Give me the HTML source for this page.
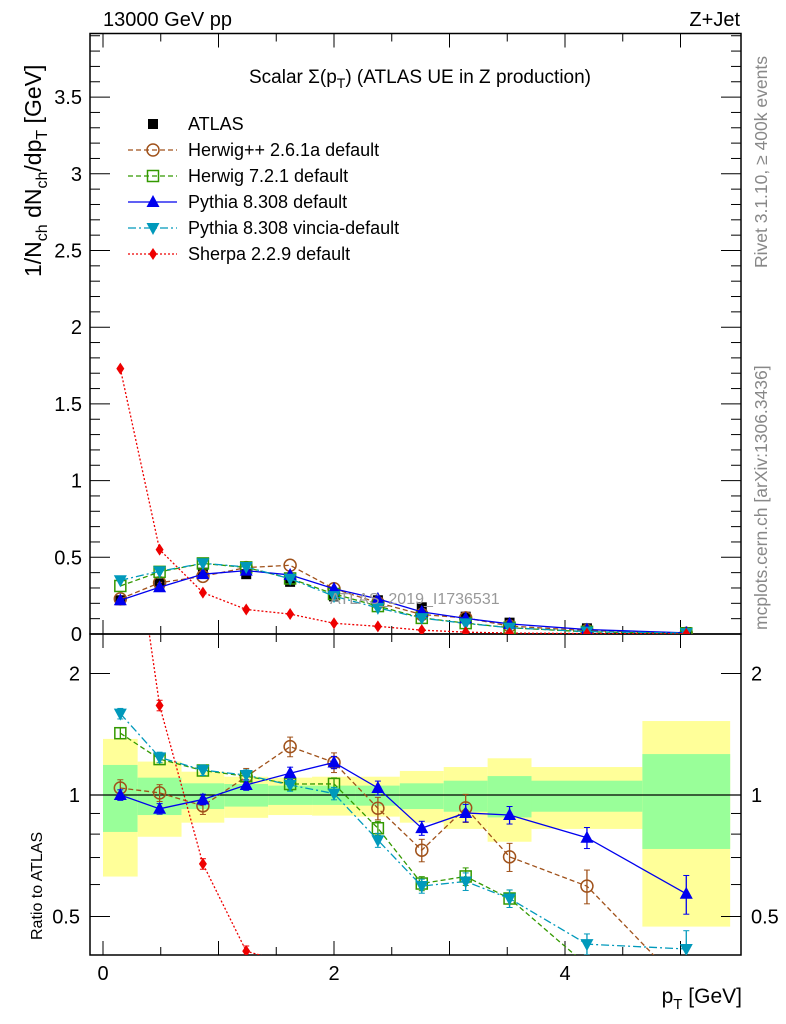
<!DOCTYPE html>
<html><head><meta charset="utf-8">
<style>
html,body{margin:0;padding:0;background:#fff;overflow:hidden;width:786px;height:1024px;}
svg{display:block;font-family:"Liberation Sans",sans-serif;}
</style></head>
<body>
<svg id="chart" width="786" height="1024" viewBox="0 0 786 1024" xmlns="http://www.w3.org/2000/svg">
  <g id="bands"></g>
  <g id="grid"></g>
  <g id="series"></g>
  <text x="103" y="26" font-size="20">13000 GeV pp</text>
  <text x="740" y="26" font-size="20" text-anchor="end">Z+Jet</text>
  <text x="420" y="83" font-size="19" text-anchor="middle">Scalar Σ(p<tspan font-size="14" dy="5">T</tspan><tspan dy="-5">) (ATLAS UE in Z production)</tspan></text>
  <text transform="translate(41,277) rotate(-90)" font-size="23">1/N<tspan font-size="16" dy="6">ch</tspan><tspan dy="-6"> dN</tspan><tspan font-size="16" dy="6">ch</tspan><tspan dy="-6">/dp</tspan><tspan font-size="16" dy="6">T</tspan><tspan dy="-6"> [GeV]</tspan></text>
  <text transform="translate(42,940) rotate(-90)" font-size="16">Ratio to ATLAS</text>
  <text x="742" y="1003" font-size="21" text-anchor="end">p<tspan font-size="15" dy="6">T</tspan><tspan dy="-6"> [GeV]</tspan></text>
  <text transform="translate(767,268) rotate(-90)" font-size="17.5" fill="#888">Rivet 3.1.10, ≥ 400k events</text>
  <text transform="translate(767,630) rotate(-90)" font-size="17.5" fill="#888">mcplots.cern.ch [arXiv:1306.3436]</text>
  <text x="330" y="604" font-size="16" fill="#999">ATLAS_2019_I1736531</text>
  <g id="legend"></g>
</svg>
<script>
const binEdges=[0,0.3,0.68,1.05,1.43,1.81,2.19,2.57,2.95,3.33,3.71,4.67,5.43];
const atlas=[0.22,0.33,0.40,0.39,0.34,0.245,0.22,0.174,0.113,0.074,0.037,0.013];
const herwigpp=[0.229,0.334,0.376,0.433,0.448,0.295,0.204,0.127,0.105,0.052,0.022,0.0043];
const herwig7=[0.313,0.405,0.46,0.434,0.362,0.261,0.182,0.105,0.071,0.041,0.014,0.0039];
const pythia=[0.22,0.305,0.39,0.413,0.385,0.295,0.229,0.144,0.102,0.066,0.029,0.0074];
const vincia=[0.35,0.409,0.461,0.437,0.36,0.247,0.170,0.1035,0.069,0.041,0.0158,0.0054];
const sherpa=[1.73,0.55,0.27,0.16,0.13,0.07,0.05,0.025,0.012,0.006,0.003,0.001];
const relErr=[0.03,0.03,0.03,0.03,0.035,0.035,0.04,0.04,0.05,0.05,0.06,0.11];
const yellowHi=[1.377,1.21,1.142,1.11,1.104,1.11,1.11,1.147,1.173,1.233,1.173,1.525];
const yellowLo=[0.628,0.788,0.854,0.878,0.892,0.889,0.884,0.854,0.824,0.766,0.824,0.472];
const greenHi=[1.187,1.104,1.069,1.065,1.055,1.055,1.055,1.069,1.085,1.114,1.085,1.263];
const greenLo=[0.81,0.892,0.923,0.936,0.945,0.945,0.941,0.923,0.909,0.88,0.909,0.735];
const topTicks=["0","0.5","1","1.5","2","2.5","3","3.5"];
const xTicks=["0","2","4"];
const ratioTicks=["0.5","1","2"];

const NS="http://www.w3.org/2000/svg";
const L=90,R=741,T=33.5,M=634,B=955;
const X=v=>103+v*115.5;
const YT=v=>634-v*153.4;
const YR=r=>795-Math.log2(r)*121.5;
function mk(tag,attrs,parent){const e=document.createElementNS(NS,tag);for(const k in attrs)e.setAttribute(k,attrs[k]);parent.appendChild(e);return e;}
const bands=document.getElementById('bands'),grid=document.getElementById('grid'),ser=document.getElementById('series'),leg=document.getElementById('legend');
const centers=binEdges.slice(0,-1).map((e,i)=>(e+binEdges[i+1])/2);

for(let i=0;i<atlas.length;i++){
  const x0=X(binEdges[i]),x1=X(binEdges[i+1]);
  const y=mk('rect',{x:x0,y:YR(yellowHi[i]),width:x1-x0,height:YR(yellowLo[i])-YR(yellowHi[i]),fill:'#ffff99'},bands);
  
  
  const g=mk('rect',{x:x0,y:YR(greenHi[i]),width:x1-x0,height:YR(greenLo[i])-YR(greenHi[i]),fill:'#99ff99'},bands);
  
  
}
mk('line',{x1:L,x2:R,y1:YR(1),y2:YR(1),stroke:'#000','stroke-width':1.3},bands);

const f1=mk('rect',{x:L,y:T,width:R-L,height:M-T,fill:'none',stroke:'#000','stroke-width':1.5},grid);


const f2=mk('rect',{x:L,y:M,width:R-L,height:B-M,fill:'none',stroke:'#000','stroke-width':1.5},grid);


for(let k=0;k<=39;k++){const v=k/10,y=YT(v);if(y<T)break;const len=k%5==0?20:10;
  mk('line',{x1:L,x2:L+len,y1:y,y2:y,stroke:'#000'},grid);mk('line',{x1:R,x2:R-len,y1:y,y2:y,stroke:'#000'},grid);}
topTicks.forEach(t=>{const tx=mk('text',{x:L-8,y:YT(+t)+7,'font-size':20,'text-anchor':'end'},grid);tx.textContent=t;
  
  });
for(let k=0;k<=10;k++){const x=X(k/2);const len=k%2==0?14:8;
  [[T,1],[M,-1],[M,1],[B,-1]].forEach(([y,d])=>mk('line',{x1:x,x2:x,y1:y,y2:y+d*len,stroke:'#000'},grid));}
xTicks.forEach(t=>{const tx=mk('text',{x:X(+t),y:980,'font-size':20,'text-anchor':'middle'},grid);tx.textContent=t;
  
  });
[0.5,0.6,0.7,0.8,0.9,1,2].forEach(v=>{const y=YR(v);const len=(v==0.5||v==1||v==2)?20:10;
  mk('line',{x1:L,x2:L+len,y1:y,y2:y,stroke:'#000'},grid);mk('line',{x1:R,x2:R-len,y1:y,y2:y,stroke:'#000'},grid);});
ratioTicks.forEach(t=>{const y=YR(+t)+7;
  const a=mk('text',{x:L-10,y:y,'font-size':20,'text-anchor':'end'},grid);a.textContent=t;
  
  
  const b=mk('text',{x:R+10,y:y,'font-size':20},grid);b.textContent=t;
  
  });

function marker(type,x,y,col,p,s){
  s=s||1;
  if(type=='sq')return mk('rect',{x:x-5*s,y:y-5*s,width:10*s,height:10*s,fill:'#000'},p);
  if(type=='circ')return mk('circle',{cx:x,cy:y,r:6*s,fill:'none',stroke:col,'stroke-width':1.5},p);
  if(type=='osq')return mk('rect',{x:x-5.5*s,y:y-5.5*s,width:11*s,height:11*s,fill:'none',stroke:col,'stroke-width':1.5},p);
  if(type=='tri')return mk('polygon',{points:`${x},${y-7*s} ${x-6.5*s},${y+5*s} ${x+6.5*s},${y+5*s}`,fill:col},p);
  if(type=='itri')return mk('polygon',{points:`${x},${y+7*s} ${x-6.5*s},${y-5*s} ${x+6.5*s},${y-5*s}`,fill:col},p);
  if(type=='dia')return mk('polygon',{points:`${x},${y-6*s} ${x-4*s},${y} ${x},${y+6*s} ${x+4*s},${y}`,fill:col},p);
}
const models=[
 {name:'herwigpp',label:'Herwig++ 2.6.1a default',vals:herwigpp,col:'#a0521b',dash:'5,3',m:'circ'},
 {name:'herwig7',label:'Herwig 7.2.1 default',vals:herwig7,col:'#339900',dash:'5,3',m:'osq'},
 {name:'pythia',label:'Pythia 8.308 default',vals:pythia,col:'#0000ee',dash:'',m:'tri'},
 {name:'vincia',label:'Pythia 8.308 vincia-default',vals:vincia,col:'#0099bb',dash:'8,3,2,3',m:'itri'},
 {name:'sherpa',label:'Sherpa 2.2.9 default',vals:sherpa,col:'#ee0000',dash:'2,2',m:'dia'}];

const defs=mk('defs',{},ser);
const c1=mk('clipPath',{id:'ctop'},defs);mk('rect',{x:L,y:T,width:R-L,height:M-T},c1);
const c2=mk('clipPath',{id:'cbot'},defs);mk('rect',{x:L,y:M,width:R-L,height:B-M},c2);
const gt=mk('g',{'clip-path':'url(#ctop)'},ser),gb=mk('g',{'clip-path':'url(#cbot)'},ser);

atlas.forEach((v,i)=>{const m=marker('sq',X(centers[i]),YT(v),'#000',gt);
  
  });
marker('sq',X(centers[0]),YR(1),'#000',gb,0.5);

models.forEach(md=>{
  const pt=centers.map((c,i)=>X(c)+','+YT(md.vals[i])).join(' ');
  const l1=mk('polyline',{points:pt,fill:'none',stroke:md.col,'stroke-width':1.3,'stroke-dasharray':md.dash},gt);
  
  
  const pr=centers.map((c,i)=>X(c)+','+YR(md.vals[i]/atlas[i])).join(' ');
  const l2=mk('polyline',{points:pr,fill:'none',stroke:md.col,'stroke-width':1.3,'stroke-dasharray':md.dash},gb);
  
  
  centers.forEach((c,i)=>{
    const m=marker(md.m,X(c),YT(md.vals[i]),md.col,gt);
    
    
    const r=md.vals[i]/atlas[i],x=X(c);
    const e=relErr[i]*(md.name=='herwigpp'?1.6:1);
    mk('line',{x1:x,x2:x,y1:YR(r*(1+e)),y2:YR(r*(1-e)),stroke:md.col,'stroke-width':1.3},gb);
    mk('line',{x1:x-3,x2:x+3,y1:YR(r*(1+e)),y2:YR(r*(1+e)),stroke:md.col},gb);
    mk('line',{x1:x-3,x2:x+3,y1:YR(r*(1-e)),y2:YR(r*(1-e)),stroke:md.col},gb);
    const m2=marker(md.m,x,YR(r),md.col,gb);
    
    
  });
});

const lrows=[{label:'ATLAS',m:'sq',col:'#000',dash:null}].concat(models);
lrows.forEach((r,i)=>{const y=124+i*26;
  const g=mk('g',{},leg);
  
  
  if(r.dash!==null)mk('line',{x1:128,x2:177,y1:y,y2:y,stroke:r.col,'stroke-width':1.3,'stroke-dasharray':r.dash},g);
  marker(r.m,153,y,r.col,g);
  const t=mk('text',{x:188,y:y+6,'font-size':18},g);t.textContent=r.label;});
</script>
</body></html>
